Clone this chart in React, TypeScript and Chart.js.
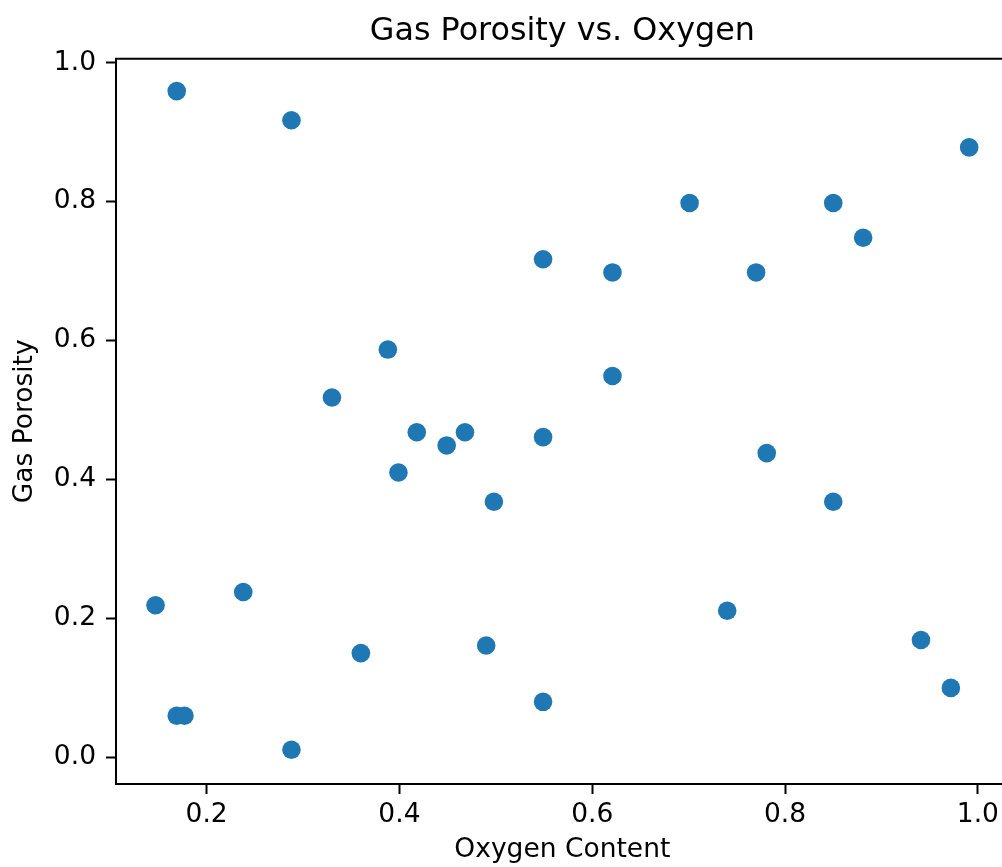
import React, { useEffect, useRef } from "react";
import { Chart, registerables } from "chart.js";

Chart.register(...registerables);

const oxygenContent = [
  0.169, 0.288, 0.991, 0.701, 0.85, 0.881, 0.549, 0.621, 0.77, 0.388, 0.621,
  0.33, 0.418, 0.468, 0.449, 0.549, 0.399, 0.498, 0.781, 0.85, 0.147, 0.238,
  0.74, 0.941, 0.36, 0.49, 0.972, 0.549, 0.169, 0.177, 0.288,
];
const gasPorosity = [
  0.959, 0.917, 0.878, 0.798, 0.798, 0.748, 0.717, 0.698, 0.698, 0.587, 0.549,
  0.518, 0.468, 0.468, 0.449, 0.461, 0.41, 0.368, 0.438, 0.368, 0.219, 0.238,
  0.211, 0.169, 0.15, 0.161, 0.1, 0.08, 0.06, 0.06, 0.011,
];
const xTickValues = [0.2, 0.4, 0.6, 0.8, 1.0];
const yTickValues = [0.0, 0.2, 0.4, 0.6, 0.8, 1.0];
const chartTitle = "Gas Porosity vs. Oxygen";
const xAxisTitle = "Oxygen Content";
const yAxisTitle = "Gas Porosity";

const FONT = "'DejaVu Sans', sans-serif";
const TICK_SIZE = 26.5;

export default function App() {
  const ref = useRef<HTMLCanvasElement>(null);

  useEffect(() => {
    const canvas = ref.current;
    if (!canvas) return;

    const topSpine = {
      id: "topSpine",
      afterDraw(chart: any) {
        const { ctx, chartArea } = chart;
        ctx.save();
        ctx.strokeStyle = "#000";
        ctx.lineWidth = 2;
        ctx.beginPath();
        ctx.moveTo(chartArea.left - 1, chartArea.top);
        ctx.lineTo(chartArea.right + 1, chartArea.top);
        ctx.stroke();
        ctx.restore();
      },
    };

    const tickFont = { family: FONT, size: TICK_SIZE, weight: "normal" as const, lineHeight: 1.2 };

    const chart = new Chart(canvas, {
      type: "scatter",
      data: {
        datasets: [
          {
            data: oxygenContent.map((x, i) => ({ x, y: gasPorosity[i] })),
            backgroundColor: "#1f77b4",
            pointBackgroundColor: "#1f77b4",
            pointBorderWidth: 0,
            borderWidth: 0,
            pointRadius: 9.3,
            pointHoverRadius: 9.3,
          },
        ],
      },
      options: {
        animation: false,
        responsive: false,
        devicePixelRatio: 1,
        events: [],
        layout: { padding: { left: 0, right: 3, top: 0, bottom: 0 } },
        plugins: {
          legend: { display: false },
          tooltip: { enabled: false },
          title: {
            display: true,
            text: chartTitle,
            fullSize: false,
            color: "#000",
            font: { family: FONT, size: 31.8, weight: "normal", lineHeight: 1.2 },
            padding: { top: 12.5, bottom: 8 },
          },
        },
        scales: {
          x: {
            type: "linear",
            min: 0.106,
            max: 1.032,
            afterBuildTicks: (s: any) => {
              s.ticks = xTickValues.map((v) => ({ value: v }));
            },
            afterFit: (s: any) => {
              s.height = 83;
            },
            ticks: {
              font: tickFont,
              color: "#000",
              padding: 5.5,
              maxRotation: 0,
              autoSkip: false,
              callback: (v: any) => Number(v).toFixed(1),
            },
            grid: {
              drawOnChartArea: false,
              drawTicks: true,
              tickLength: 10,
              tickColor: "#000",
              tickWidth: 2,
            },
            border: { display: true, color: "#000", width: 2 },
            title: {
              display: true,
              text: xAxisTitle,
              color: "#000",
              font: tickFont,
              padding: { top: 0, bottom: 1 },
            },
          },
          y: {
            type: "linear",
            min: -0.0383,
            max: 1.0057,
            afterBuildTicks: (s: any) => {
              s.ticks = yTickValues.map((v) => ({ value: v }));
            },
            afterFit: (s: any) => {
              s.width = 116;
            },
            ticks: {
              font: tickFont,
              color: "#000",
              padding: 10,
              autoSkip: false,
              callback: (v: any) => Number(v).toFixed(1),
            },
            grid: {
              drawOnChartArea: false,
              drawTicks: true,
              tickLength: 10,
              tickColor: "#000",
              tickWidth: 2,
            },
            border: { display: true, color: "#000", width: 2 },
            title: {
              display: true,
              text: yAxisTitle,
              color: "#000",
              font: tickFont,
              padding: { top: 9, bottom: 0 },
            },
          },
        },
      },
      plugins: [topSpine],
    });

    return () => chart.destroy();
  }, []);

  return (
    <div
      style={{
        position: "fixed",
        left: 0,
        top: 0,
        width: 1002,
        height: 867,
        overflow: "hidden",
        background: "#fff",
      }}
    >
      <canvas
        ref={ref}
        width={1018}
        height={867}
        style={{ display: "block", width: 1018, height: 867 }}
      />
    </div>
  );
}
